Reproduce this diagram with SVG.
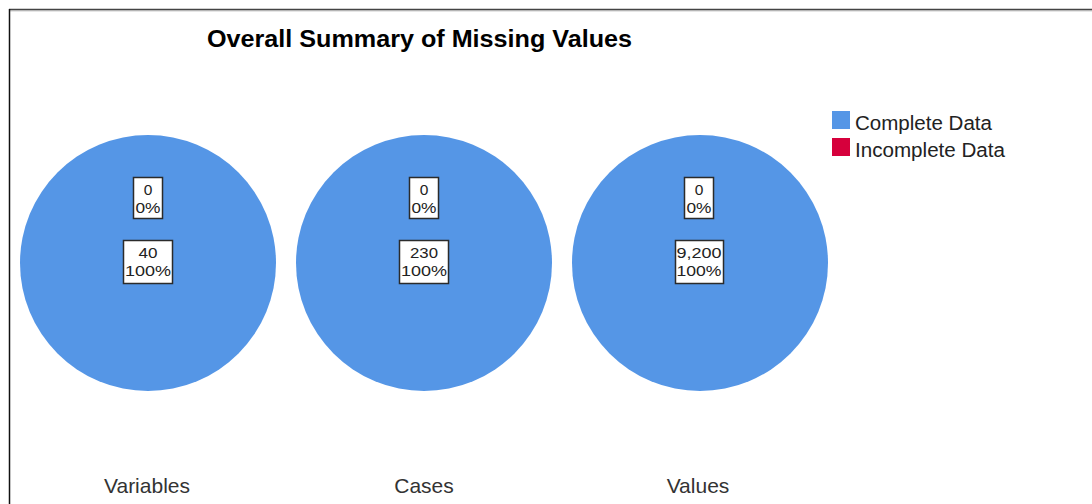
<svg xmlns="http://www.w3.org/2000/svg" width="1092" height="504" viewBox="0 0 1092 504">
<style>
.pie{fill:#5596E6}
.box{fill:#fff;stroke:#2b2b2b;stroke-width:1.5}
.lbl{font-family:"Liberation Sans",Arial,sans-serif;font-size:15.5px;fill:#222;text-anchor:middle}
.axis{font-family:"Liberation Sans",Arial,sans-serif;font-size:21px;fill:#333;text-anchor:middle}
.leg{font-family:"Liberation Sans",Arial,sans-serif;font-size:20px;fill:#222}
.title{font-family:"Liberation Sans",Arial,sans-serif;font-size:23px;font-weight:bold;fill:#000}
</style>
<rect width="1092" height="504" fill="#fff"/>
<line x1="9" y1="9.5" x2="1092" y2="9.5" stroke="#444" stroke-width="1.5"/>
<line x1="9" y1="10.8" x2="1092" y2="10.8" stroke="#aaa" stroke-width="1"/>
<line x1="9.5" y1="9" x2="9.5" y2="504" stroke="#111" stroke-width="1.5"/>
<text class="title" x="207" y="47" textLength="425" lengthAdjust="spacingAndGlyphs">Overall Summary of Missing Values</text>
<g id="pie-variables">
<circle class="pie" cx="148" cy="263" r="128"/>
<rect class="box" x="133.5" y="177.5" width="29" height="41"/>
<text class="lbl" x="148" y="195">0</text>
<text class="lbl" x="148" y="213" textLength="25" lengthAdjust="spacingAndGlyphs">0%</text>
<rect class="box" x="123.5" y="240.5" width="49" height="43"/>
<text class="lbl" x="148" y="258" textLength="19" lengthAdjust="spacingAndGlyphs">40</text>
<text class="lbl" x="148" y="276" textLength="46" lengthAdjust="spacingAndGlyphs">100%</text>
<text class="axis" x="147" y="493">Variables</text>
</g>
<g id="pie-cases">
<circle class="pie" cx="424" cy="263" r="128"/>
<rect class="box" x="409.5" y="177.5" width="29" height="41"/>
<text class="lbl" x="424" y="195">0</text>
<text class="lbl" x="424" y="213" textLength="25" lengthAdjust="spacingAndGlyphs">0%</text>
<rect class="box" x="399.5" y="240.5" width="49" height="43"/>
<text class="lbl" x="424" y="258" textLength="28" lengthAdjust="spacingAndGlyphs">230</text>
<text class="lbl" x="424" y="276" textLength="46" lengthAdjust="spacingAndGlyphs">100%</text>
<text class="axis" x="424" y="493">Cases</text>
</g>
<g id="pie-values">
<circle class="pie" cx="700" cy="263" r="128"/>
<rect class="box" x="684.5" y="177.5" width="29" height="41"/>
<text class="lbl" x="699" y="195">0</text>
<text class="lbl" x="699" y="213" textLength="25" lengthAdjust="spacingAndGlyphs">0%</text>
<rect class="box" x="675.5" y="240.5" width="48" height="43"/>
<text class="lbl" x="699" y="258" textLength="45" lengthAdjust="spacingAndGlyphs">9,200</text>
<text class="lbl" x="699" y="276" textLength="45" lengthAdjust="spacingAndGlyphs">100%</text>
<text class="axis" x="698" y="493">Values</text>
</g>
<g id="legend">
<rect x="832" y="111" width="18" height="18" fill="#5596E6"/>
<text class="leg" x="855" y="130" textLength="137" lengthAdjust="spacingAndGlyphs">Complete Data</text>
<rect x="832" y="138" width="18" height="18" fill="#D6003C"/>
<text class="leg" x="855" y="157" textLength="150" lengthAdjust="spacingAndGlyphs">Incomplete Data</text>
</g>
<g id="connectors"/>
</svg>
